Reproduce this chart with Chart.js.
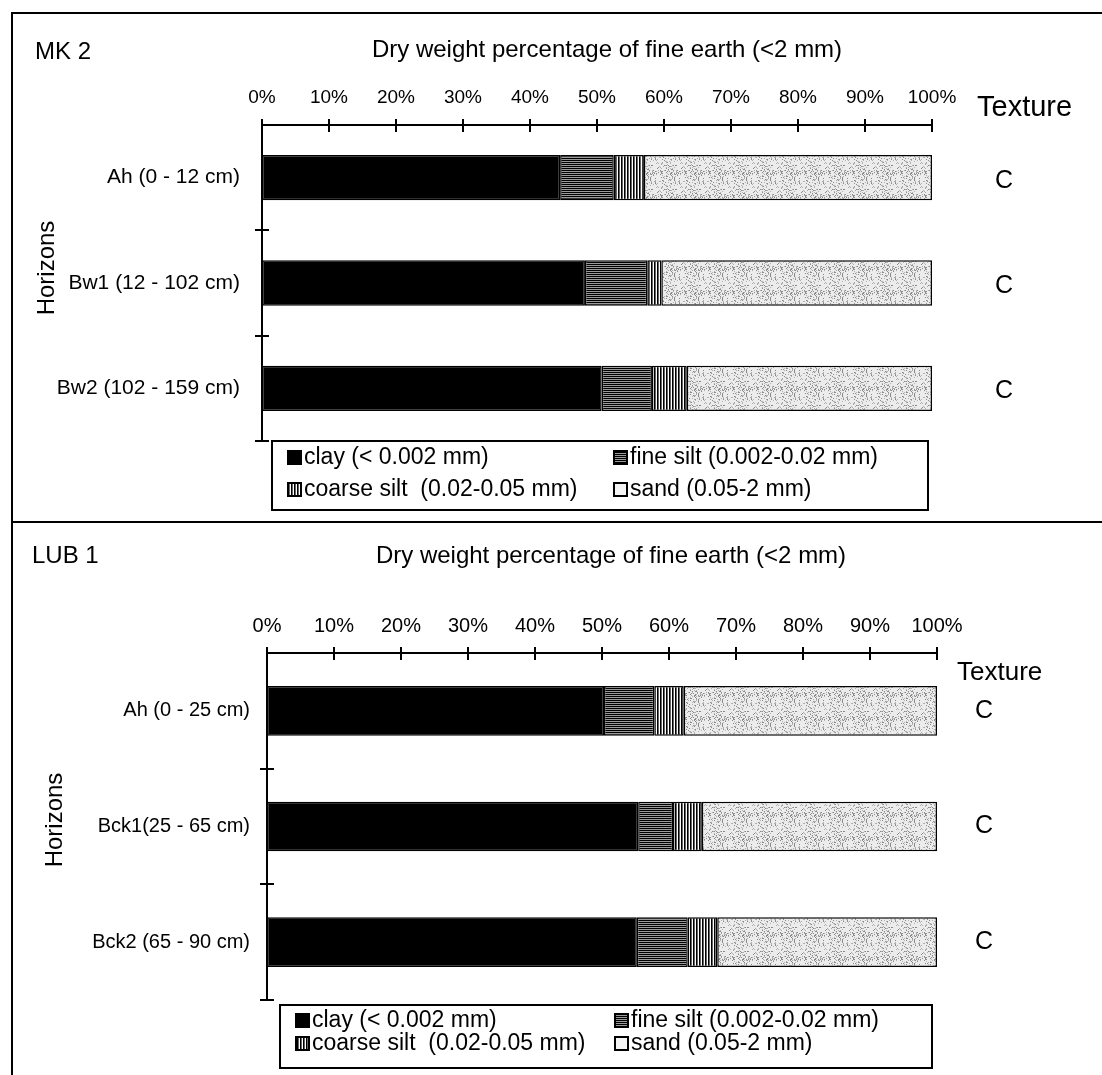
<!DOCTYPE html>
<html>
<head>
<meta charset="utf-8">
<title>Particle size distribution of soil horizons</title>
<script src="https://cdn.jsdelivr.net/npm/chart.js@4/dist/chart.umd.min.js"></script>
<style>
  html, body { margin: 0; padding: 0; background: #fff; }
  #page { position: relative; width: 1102px; height: 1075px; overflow: hidden; }
  .panel { position: absolute; left: 0; width: 1102px; }
  .panel canvas { display: block; }
  .rule { position: absolute; background: #000; }
</style>
</head>
<body>
<div id="page">
  <div class="panel" style="top:0;height:522px"><canvas id="mk2" width="1102" height="522"></canvas></div>
  <div class="panel" style="top:522px;height:553px"><canvas id="lub1" width="1102" height="553"></canvas></div>
  <div class="rule" style="left:11px;top:12px;width:1091px;height:2px"></div>
  <div class="rule" style="left:11px;top:12px;width:2px;height:1063px"></div>
  <div class="rule" style="left:11px;top:521px;width:1091px;height:2px"></div>
</div>
<script>
// ---- data -------------------------------------------------------------
const axisTitle = 'Dry weight percentage of fine earth (<2 mm)';
const percentTicks = [0, 10, 20, 30, 40, 50, 60, 70, 80, 90, 100];
const fractionLabels = ['clay (< 0.002 mm)', 'fine silt (0.002-0.02 mm)',
                        'coarse silt  (0.02-0.05 mm)', 'sand (0.05-2 mm)'];

// profile MK 2
const mk2Horizons   = ['Ah (0 - 12 cm)', 'Bw1 (12 - 102 cm)', 'Bw2 (102 - 159 cm)'];
const mk2Clay       = [44.5, 48.2, 50.7];
const mk2FineSilt   = [8.0, 9.3, 7.5];
const mk2CoarseSilt = [4.5, 2.1, 5.2];
const mk2Sand       = [43.0, 40.4, 36.6];
const mk2Texture    = ['C', 'C', 'C'];

// profile LUB 1
const lub1Horizons   = ['Ah (0 - 25 cm)', 'Bck1(25 - 65 cm)', 'Bck2 (65 - 90 cm)'];
const lub1Clay       = [50.3, 55.4, 55.2];
const lub1FineSilt   = [7.5, 5.2, 7.6];
const lub1CoarseSilt = [4.4, 4.3, 4.4];
const lub1Sand       = [37.8, 35.1, 32.8];
const lub1Texture    = ['C', 'C', 'C'];

// ---- fills ------------------------------------------------------------
const FONT = '"Liberation Sans", Arial, Helvetica, sans-serif';

function makePattern(w, h, paint) {
  const c = document.createElement('canvas');
  c.width = w; c.height = h;
  const g = c.getContext('2d');
  g.fillStyle = '#fff';
  g.fillRect(0, 0, w, h);
  paint(g);
  return g.createPattern(c, 'repeat');
}

const clayFill = '#000';
// dense horizontal hatching
const fineSiltFill = makePattern(4, 2, g => { g.fillStyle = '#000'; g.fillRect(0, 0, 4, 1); g.fillStyle = '#9a9a9a'; g.fillRect(0, 1, 4, 1); });
// vertical hatching
const coarseSiltFill = makePattern(3, 4, g => {
  g.fillStyle = '#000'; g.fillRect(0, 0, 1, 4);
  g.fillStyle = '#666'; g.fillRect(1, 0, 1, 4);
});
// fine grey stipple (fixed-seed scatter so the grain looks irregular)
const sandFill = makePattern(24, 24, g => {
  g.fillStyle = '#ececec'; g.fillRect(0, 0, 24, 24);
  let s = 7;
  const next = () => (s = (s * 1103515245 + 12345) & 0x7fffffff) / 0x7fffffff;
  for (let k = 0; k < 150; k++) {
    const x = Math.floor(next() * 24), y = Math.floor(next() * 24);
    g.fillStyle = next() < 0.5 ? '#8a8a8a' : '#b0b0b0';
    g.fillRect(x, y, 1, 1);
  }
});
const fractionFills = [clayFill, fineSiltFill, coarseSiltFill, sandFill];
const legendFills = [clayFill, fineSiltFill, coarseSiltFill, '#f4f4f4'];

// ---- plugins ----------------------------------------------------------
// Cross ticks on both axes plus the end cap of the horizon axis.
const crossTicks = {
  id: 'crossTicks',
  afterDatasetsDraw(chart) {
    const { ctx, scales: { x, y }, chartArea: a } = chart;
    ctx.save();
    ctx.strokeStyle = '#000';
    ctx.lineWidth = 2;
    ctx.beginPath();
    x.ticks.forEach(t => {
      const px = Math.round(x.getPixelForValue(t.value));
      ctx.moveTo(px, a.top - 6); ctx.lineTo(px, a.top + 7);
    });
    const n = chart.data.labels.length;
    for (let i = 0; i < n; i++) {
      const py = i < n - 1
        ? Math.round((y.getPixelForValue(i) + y.getPixelForValue(i + 1)) / 2)
        : Math.round(a.bottom);
      ctx.moveTo(a.left - 7, py); ctx.lineTo(a.left + 7, py);
    }
    ctx.stroke();
    ctx.restore();
  }
};

// Profile name, axis caption, horizon caption, texture column and legend.
const panelText = {
  id: 'panelText',
  afterDraw(chart, args, o) {
    const { ctx, scales: { y } } = chart;
    ctx.save();
    ctx.fillStyle = '#000';
    ctx.textBaseline = 'middle';

    ctx.font = o.nameSize + 'px ' + FONT;
    ctx.textAlign = 'left';
    ctx.fillText(o.name, o.nameX, o.nameY);

    ctx.font = o.titleSize + 'px ' + FONT;
    ctx.textAlign = 'center';
    ctx.fillText(axisTitle, o.titleX, o.titleY);

    ctx.save();
    ctx.translate(o.horizonsX, o.horizonsY);
    ctx.rotate(-Math.PI / 2);
    ctx.font = o.horizonsSize + 'px ' + FONT;
    ctx.fillText('Horizons', 0, 0);
    ctx.restore();

    ctx.font = o.textureSize + 'px ' + FONT;
    ctx.textAlign = 'left';
    ctx.fillText('Texture', o.textureX, o.textureY);

    ctx.font = o.classSize + 'px ' + FONT;
    ctx.textAlign = 'center';
    o.texture.forEach((t, i) => ctx.fillText(t, o.classX, y.getPixelForValue(i) + o.classDy));

    // legend box, 2 x 2 grid
    const L = o.legend;
    ctx.lineWidth = 2;
    ctx.strokeStyle = '#000';
    ctx.strokeRect(L.x1, L.y1, L.x2 - L.x1, L.y2 - L.y1);
    ctx.font = L.size + 'px ' + FONT;
    ctx.textAlign = 'left';
    chart.data.datasets.forEach((ds, i) => {
      const row = Math.floor(i / 2), col = i % 2;
      const cy = L.rows[row];
      const sx = L.cols[col];
      ctx.fillStyle = legendFills[i];
      ctx.fillRect(sx, cy - 7, 15, 15);
      ctx.lineWidth = 2;
      ctx.strokeRect(sx + 1, cy - 6, 13, 13);
      ctx.fillStyle = '#000';
      ctx.fillText(ds.label, sx + 17, cy + 1);
    });
    ctx.restore();
  }
};

// ---- chart factory ----------------------------------------------------
function buildPanel(id, p) {
  const canvas = document.getElementById(id);
  const series = [p.clay, p.fineSilt, p.coarseSilt, p.sand];
  const datasets = series.map((values, i) => ({
    label: fractionLabels[i],
    data: values,
    backgroundColor: fractionFills[i],
    borderColor: '#000',
    borderWidth: 1.5,
    borderSkipped: false,
    barPercentage: 0.43,
    categoryPercentage: 1
  }));
  return new Chart(canvas, {
    type: 'bar',
    data: { labels: p.horizons, datasets },
    plugins: [crossTicks, panelText],
    options: {
      indexAxis: 'y',
      responsive: false,
      animation: false,
      events: [],
      layout: {
        padding: { left: p.padLeft, top: p.padTop,
                   right: canvas.width - p.area.right, bottom: canvas.height - p.area.bottom }
      },
      plugins: {
        legend: { display: false },
        tooltip: { enabled: false },
        panelText: p.text
      },
      scales: {
        x: {
          type: 'linear', position: 'top', stacked: true, min: 0, max: 100,
          afterBuildTicks: s => { s.ticks = percentTicks.map(v => ({ value: v })); },
          ticks: { callback: v => v + '%', color: '#000', padding: p.tickGap,
                   font: { family: FONT, size: p.tickSize }, maxRotation: 0, autoSkip: false },
          grid: { display: false, drawTicks: false },
          border: { display: true, color: '#000', width: 2 },
          afterFit: s => { s.height = p.area.top - p.padTop; }
        },
        y: {
          type: 'category', stacked: true, offset: true,
          ticks: { color: '#000', padding: p.labelGap, font: { family: FONT, size: p.labelSize } },
          grid: { display: false, drawTicks: false },
          border: { display: true, color: '#000', width: 2 },
          afterFit: s => { s.width = p.area.left - p.padLeft; }
        }
      }
    }
  });
}

buildPanel('mk2', {
  horizons: mk2Horizons, clay: mk2Clay, fineSilt: mk2FineSilt,
  coarseSilt: mk2CoarseSilt, sand: mk2Sand,
  area: { left: 262, top: 125, right: 932, bottom: 441 },
  padLeft: 20, padTop: 60, tickGap: 16, tickSize: 19, labelGap: 22, labelSize: 21,
  text: {
    name: 'MK 2', nameX: 35, nameY: 52, nameSize: 24,
    titleX: 607, titleY: 50, titleSize: 24,
    horizonsX: 47, horizonsY: 268, horizonsSize: 24,
    textureX: 977, textureY: 108, textureSize: 29,
    texture: mk2Texture, classX: 1004, classSize: 25, classDy: 3,
    legend: { x1: 272, y1: 441, x2: 928, y2: 510, rows: [457, 489], cols: [287, 613], size: 23 }
  }
});

buildPanel('lub1', {
  horizons: lub1Horizons, clay: lub1Clay, fineSilt: lub1FineSilt,
  coarseSilt: lub1CoarseSilt, sand: lub1Sand,
  area: { left: 267, top: 131, right: 937, bottom: 478 },
  padLeft: 20, padTop: 60, tickGap: 15, tickSize: 20, labelGap: 17, labelSize: 20,
  text: {
    name: 'LUB 1', nameX: 32, nameY: 34, nameSize: 24,
    titleX: 611, titleY: 34, titleSize: 24,
    horizonsX: 55, horizonsY: 298, horizonsSize: 24,
    textureX: 957, textureY: 151, textureSize: 26,
    texture: lub1Texture, classX: 984, classSize: 25, classDy: 0,
    legend: { x1: 280, y1: 483, x2: 932, y2: 546, rows: [498, 521], cols: [295, 614], size: 23 }
  }
});
</script>
</body>
</html>
